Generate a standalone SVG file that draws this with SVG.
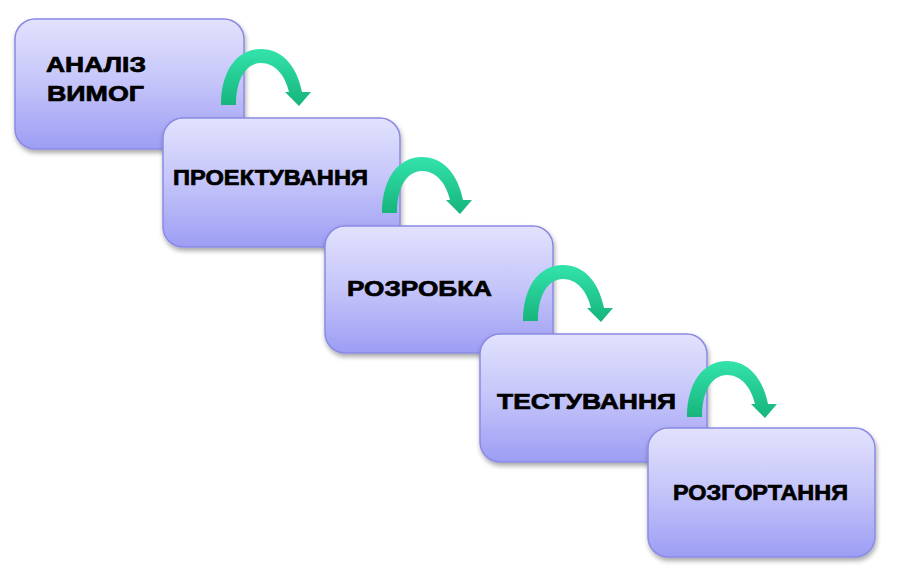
<svg xmlns="http://www.w3.org/2000/svg" width="914" height="584" viewBox="0 0 914 584">
  <defs>
    <linearGradient id="boxFill" x1="0" y1="0" x2="0" y2="1">
      <stop offset="0" stop-color="#e2e2fd"/>
      <stop offset="0.5" stop-color="#c4c4fa"/>
      <stop offset="1" stop-color="#9d9df4"/>
    </linearGradient>
    <linearGradient id="arrowFill" x1="0" y1="0" x2="0" y2="1">
      <stop offset="0" stop-color="#33e3ac"/>
      <stop offset="1" stop-color="#16b47b"/>
    </linearGradient>
    <filter id="shadow" x="-10%" y="-10%" width="125%" height="130%">
      <feGaussianBlur in="SourceAlpha" stdDeviation="2.5"/>
      <feOffset dx="1" dy="3" result="b"/>
      <feComponentTransfer><feFuncA type="linear" slope="0.35"/></feComponentTransfer>
      <feMerge><feMergeNode/><feMergeNode in="SourceGraphic"/></feMerge>
    </filter>
    <path id="curveArrow" d="M 0 0 C 0 -34, 16 -56, 40 -56 C 61 -56, 76 -39, 81 -13 L 90 -13 L 78 1 L 64 -13 L 68 -13 C 64 -30, 54 -42, 40 -42 C 25 -42, 15 -26, 15 0 Z"/>
  </defs>
  <style>
    .box { fill: url(#boxFill); stroke: #8a8ae4; stroke-width: 1.5; filter: url(#shadow); }
    .lbl { font-family: "Liberation Sans", Arial, sans-serif; font-weight: bold; font-size: 22px; fill: #000; stroke: #000; stroke-width: 0.7; }
    .arr { fill: url(#arrowFill); }
  </style>
  <g id="node1">
    <rect class="box" x="15" y="19" width="229" height="130" rx="20"/>
    <text class="lbl" x="46" y="72" textLength="100" lengthAdjust="spacingAndGlyphs">АНАЛІЗ</text>
    <text class="lbl" x="47" y="101" textLength="97" lengthAdjust="spacingAndGlyphs">ВИМОГ</text>
  </g>
  <g id="node2">
    <rect class="box" x="163" y="118" width="237" height="129" rx="20"/>
    <text class="lbl" x="173" y="185" textLength="195" lengthAdjust="spacingAndGlyphs">ПРОЕКТУВАННЯ</text>
  </g>
  <g id="node3">
    <rect class="box" x="325" y="226" width="228" height="127" rx="20"/>
    <text class="lbl" x="347" y="296" textLength="145" lengthAdjust="spacingAndGlyphs">РОЗРОБКА</text>
  </g>
  <g id="node4">
    <rect class="box" x="480" y="334" width="227" height="128" rx="20"/>
    <text class="lbl" x="497" y="409" textLength="179" lengthAdjust="spacingAndGlyphs">ТЕСТУВАННЯ</text>
  </g>
  <g id="node5">
    <rect class="box" x="648" y="428" width="227" height="129" rx="20"/>
    <text class="lbl" x="673" y="500" textLength="175" lengthAdjust="spacingAndGlyphs">РОЗГОРТАННЯ</text>
  </g>
  <g id="connectors">
    <use class="arr" href="#curveArrow" x="221" y="105"/>
    <use class="arr" href="#curveArrow" x="382" y="213"/>
    <use class="arr" href="#curveArrow" x="523" y="321"/>
    <use class="arr" href="#curveArrow" x="687" y="417"/>
  </g>
</svg>
